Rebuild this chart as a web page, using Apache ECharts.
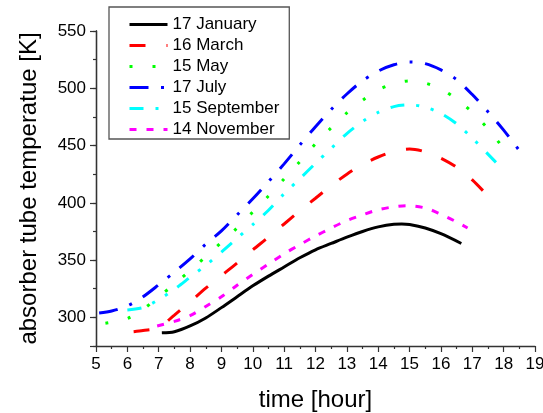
<!DOCTYPE html>
<html>
<head>
<meta charset="utf-8">
<script src="https://cdn.jsdelivr.net/npm/echarts@6/dist/echarts.min.js"></script>
<style>
  html, body { margin: 0; padding: 0; background: #fff; }
  #chart { width: 543px; height: 413px; }
</style>
</head>
<body>
<div id="chart"></div>
<script>
// Absorber tube temperature over the day, [hour, K] pairs per date
const jan = [[7.1,286.5],[7.5,287.5],[8.0,292.5],[8.5,299.5],[9.0,308.5],[9.5,318],[10.0,327.5],[10.5,336],[11.0,344],[11.5,352],[12.0,359],[12.5,364.5],[13.0,370],[13.5,375],[14.0,379],[14.5,381.3],[14.75,381.5],[15.0,381],[15.5,378],[16.0,373],[16.65,364.5]];
const mar = [[6.2,287.5],[6.5,288.5],[7.0,291],[7.5,302],[8.0,313.5],[8.5,325.5],[9.0,336.5],[9.5,347.5],[10.0,359],[10.5,370],[11.0,381.5],[11.5,393],[12.0,404],[12.5,415],[13.0,425],[13.5,433.5],[14.0,440],[14.5,445],[15.0,447],[15.5,444.5],[16.0,439],[16.5,431],[17.0,420],[17.6,403]];
const may = [[5.3,294.8],[6.0,299],[6.5,307],[7.0,318],[7.5,329],[8.0,341],[8.5,353],[9.0,365.5],[9.5,378],[10.0,392],[10.5,406],[11.0,421],[11.5,436],[12.0,451.5],[12.5,465.5],[13.0,478.5],[13.5,489.5],[14.0,498.5],[14.5,504],[15.0,506.5],[15.5,504.5],[16.0,499.5],[16.5,490.5],[17.0,479],[17.5,464.5],[18.1,444]];
const jul = [[5.1,303.8],[5.5,305.5],[6.0,310],[6.5,318],[7.0,328.5],[7.5,339.5],[8.0,351],[8.5,364],[9.0,375.5],[9.5,389.5],[10.0,403.5],[10.5,418.5],[11.0,434],[11.5,450.5],[12.0,466.5],[12.5,481.5],[13.0,495],[13.5,506.5],[14.0,515],[14.5,520.5],[15.0,523],[15.5,521.5],[16.0,516],[16.5,507.5],[17.0,494.5],[17.5,479.5],[18.0,463.5],[18.6,442]];
const sep = [[6.0,306.5],[6.5,308.5],[7.0,315.5],[7.5,324.5],[8.0,335],[8.5,345.5],[9.0,357],[9.5,369],[10.0,381],[10.5,393.5],[11.0,408],[11.5,421],[12.0,434.5],[12.5,447.5],[13.0,460.5],[13.5,471],[14.0,479],[14.5,484],[15.0,485.5],[15.5,483.5],[16.0,478],[16.5,469],[17.0,456.5],[17.5,442.5],[17.8,434]];
const nov = [[6.95,292.5],[7.5,296.5],[8.0,301.5],[8.5,309.5],[9.0,318],[9.5,328],[10.0,337.5],[10.5,346.5],[11.0,355.5],[11.5,363.5],[12.0,371],[12.5,378],[13.0,384.5],[13.5,389.5],[14.0,394],[14.5,396.5],[14.9,397.5],[15.5,395.5],[16.0,390],[16.45,384],[16.85,378]];

const seriesNames = ['17 January', '16 March', '15 May', '17 July', '15 September', '14 November'];
const seriesData = [jan, mar, may, jul, sep, nov];
const colors = ['#000000', '#ff0000', '#00ff00', '#0000ff', '#00ffff', '#ff00ff'];
const dashes = ['solid', [16, 21], [3, 20], [19, 12.5, 3, 12.5], [14, 12, 3, 12, 3, 12], [7, 10]];

const FONT = 'Liberation Sans, Arial, sans-serif';

const chart = echarts.init(document.getElementById('chart'), null, { renderer: 'canvas' });

const axisLine = { show: true, lineStyle: { color: '#333', width: 1.3 } };

chart.setOption({
  animation: false,
  backgroundColor: '#fff',
  grid: { left: 96, right: 8, top: 31, bottom: 67, containLabel: false, outerBoundsMode: 'none' },
  legend: {
    orient: 'vertical',
    left: 109, top: 7,
    padding: [9, 10, 1, 19],
    itemGap: 4,
    itemWidth: 38, itemHeight: 14,
    borderColor: '#555', borderWidth: 1.3, borderRadius: 0,
    backgroundColor: '#fff',
    itemStyle: { color: 'transparent', borderColor: 'transparent', borderWidth: 0 },
    lineStyle: { width: 3 },
    textStyle: { fontFamily: FONT, fontSize: 17, color: '#000', lineHeight: 17 },
    data: seriesNames
  },
  xAxis: {
    type: 'value', min: 5, max: 19, interval: 1,
    name: 'time [hour]', nameLocation: 'middle', nameGap: 42,
    nameTextStyle: { fontFamily: FONT, fontSize: 24, color: '#000' },
    axisLine: axisLine,
    axisTick: { show: true, inside: false, length: 6, lineStyle: { color: '#333', width: 1.2 } },
    minorTick: { show: true, splitNumber: 2, length: 3, lineStyle: { color: '#333', width: 1.2 } },
    axisLabel: { fontFamily: FONT, fontSize: 17, color: '#000', margin: 10, showMaxLabel: true },
    splitLine: { show: false }, minorSplitLine: { show: false }
  },
  yAxis: [
    {
      // minor ticks every 25 K
      type: 'value', min: 275, max: 550, interval: 25,
      axisLine: axisLine,
      axisTick: { show: true, inside: false, length: 3, lineStyle: { color: '#333', width: 1.2 } },
      axisLabel: { show: false },
      splitLine: { show: false }
    },
    {
      // labelled ticks every 50 K
      type: 'value', min: 275, max: 550, position: 'left',
      name: 'absorber tube temperatue [K]', nameLocation: 'middle', nameGap: 55, nameRotate: 90,
      nameTextStyle: { fontFamily: FONT, fontSize: 24, color: '#000' },
      axisLine: axisLine,
      axisTick: { show: true, inside: false, length: 6, lineStyle: { color: '#333', width: 1.2 } },
      axisLabel: {
        fontFamily: FONT, fontSize: 17, color: '#000', margin: 10,
        formatter: v => (v % 50 === 0 ? String(v) : '')
      },
      splitLine: { show: false }
    }
  ],
  series: seriesNames.map((name, i) => ({
    name: name,
    type: 'line',
    xAxisIndex: 0, yAxisIndex: 0,
    data: seriesData[i],
    smooth: 0.3,
    showSymbol: false,
    symbol: 'none',
    color: colors[i],
    lineStyle: { color: colors[i], width: 3, type: dashes[i] },
    z: 10 - i
  }))
});
</script>
</body>
</html>
